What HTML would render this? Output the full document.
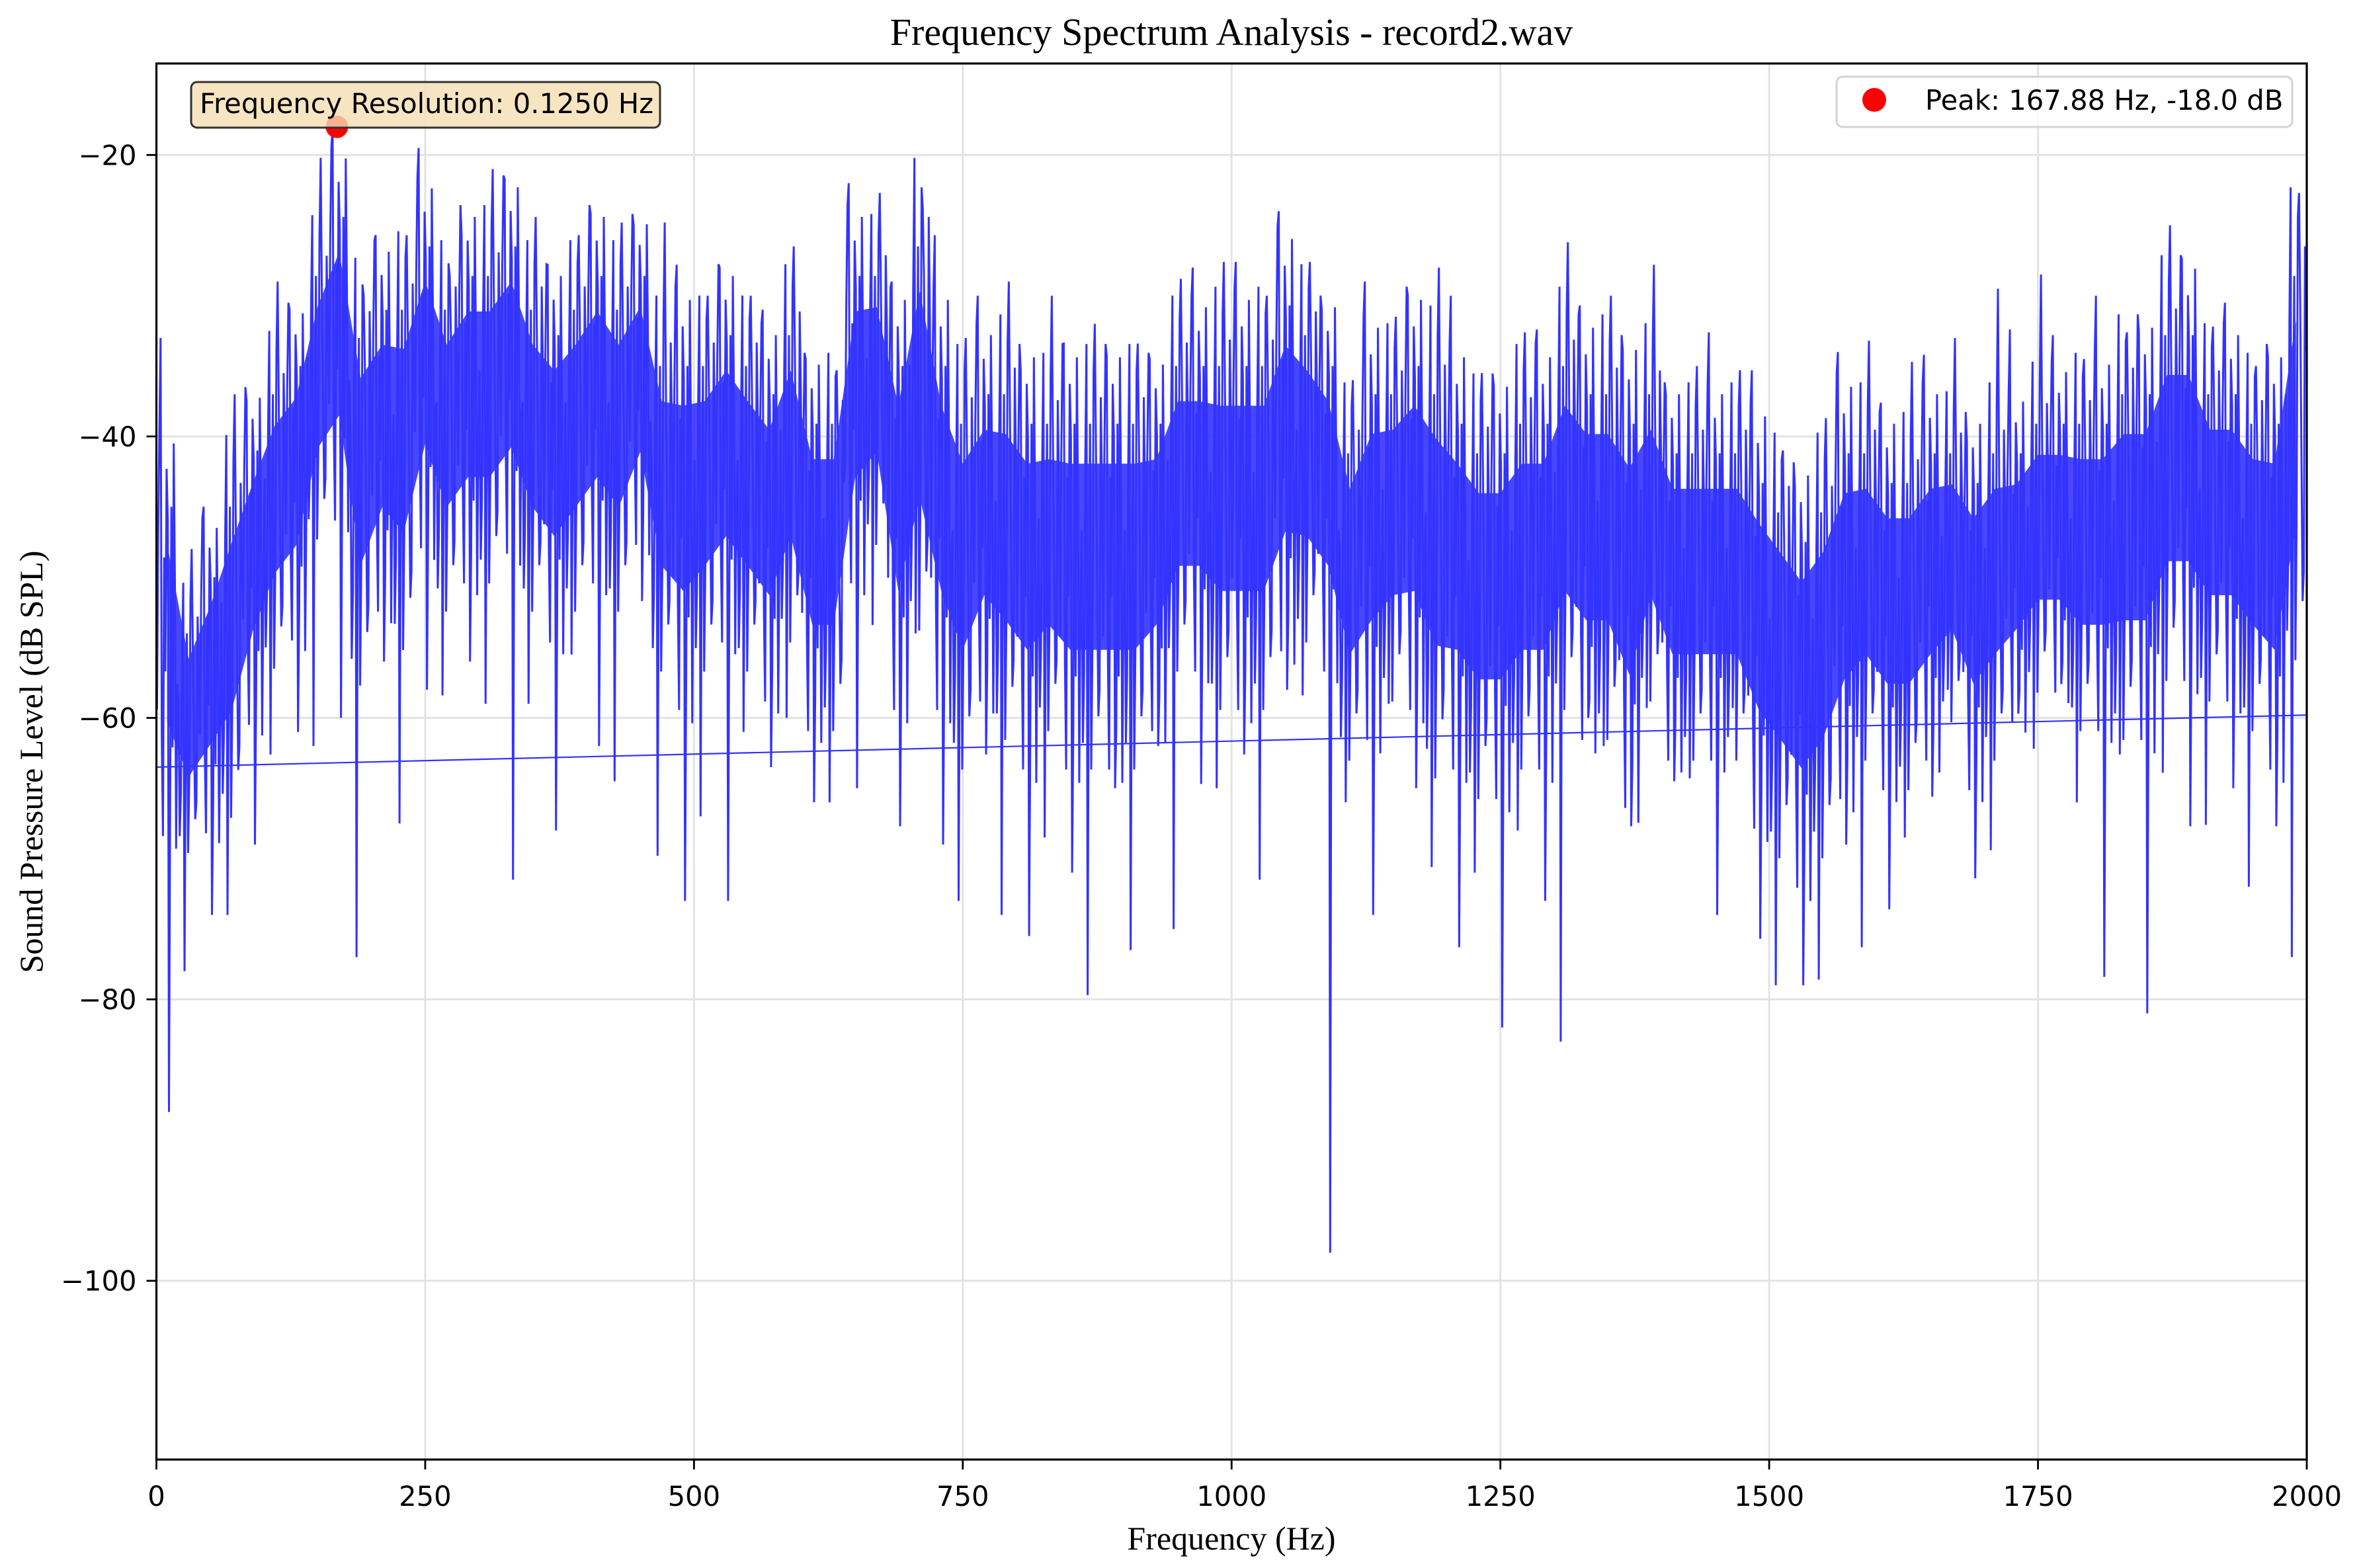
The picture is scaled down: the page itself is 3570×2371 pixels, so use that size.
<!DOCTYPE html>
<html><head><meta charset="utf-8"><style>
html,body{margin:0;padding:0;background:#fff;width:3570px;height:2371px;overflow:hidden}
svg{display:block}
.tk{font-family:"DejaVu Sans","Liberation Sans",sans-serif;font-size:41.7px;fill:#000}
.sf{font-family:"Liberation Serif","DejaVu Serif",serif;fill:#000}
</style></head><body>
<svg id="chart" width="3570" height="2371" viewBox="0 0 3570 2371" xmlns="http://www.w3.org/2000/svg">
<rect width="3570" height="2371" fill="#fff"/>
<g id="grid"></g>
<g id="series"></g>
<g id="axes"></g>
<text class="sf" x="1862" y="68" font-size="58" text-anchor="middle">Frequency Spectrum Analysis - record2.wav</text>
<text class="sf" x="1862" y="2343" font-size="50" text-anchor="middle">Frequency (Hz)</text>
<text class="sf" x="0" y="0" font-size="50" text-anchor="middle" transform="translate(64,1152) rotate(-90)">Sound Pressure Level (dB SPL)</text>
<g>
<rect x="2777" y="116" width="689" height="76" rx="9" fill="#fff" fill-opacity="0.8" stroke="#d3d3d3" stroke-width="3"/>
<circle cx="2834" cy="151" r="18" fill="#ff0000"/>
<text class="tk" x="2911" y="166">Peak: 167.88 Hz, -18.0 dB</text>
</g>
</svg>
<script>
// ---- data (20 Hz bins, dB) ----
const binStartHz = [0,20,40,60,80,100,120,140,160,180,200,220,240,260,280,300,320,340,360,380,400,420,440,460,480,500,520,540,560,580,600,620,640,660,680,700,720,740,760,780,800,820,840,860,880,900,920,940,960,980,1000,1020,1040,1060,1080,1100,1120,1140,1160,1180,1200,1220,1240,1260,1280,1300,1320,1340,1360,1380,1400,1420,1440,1460,1480,1500,1520,1540,1560,1580,1600,1620,1640,1660,1680,1700,1720,1740,1760,1780,1800,1820,1840,1860,1880,1900,1920,1940,1960,1980];
const peakHi = [-33,-48,-45,-37,-37.5,-29,-31,-20.2,-18,-30,-25.7,-25.7,-19.5,-28.6,-25.7,-21,-21.7,-24.4,-27.8,-25.7,-24.2,-24.8,-25,-24.8,-27.8,
 -30,-28,-30,-31,-26.5,-34.5,-35.3,-22,-22.7,-29,-23.8,-25.7,-33,-30,-29,-35.3,-30,-33.4,-32,-34.3,-33.4,-34.5,-28.8,-28,-27.6,
 -27.6,-30,-24,-27.6,-31,-36,-29,-31.5,-30,-28,-30,-35.5,-36.4,-32.6,-32.4,-26.2,-30.7,-30,-33.9,-27.8,-37,-35,-32.6,-35.3,-35.3,
 -41,-43.5,-38.7,-34,-33.2,-37.6,-34.7,-34.2,-33,-40.3,-29.5,-32.4,-28.5,-32.8,-34.5,-30,-32.6,-32.6,-25,-27.4,-32.2,-30.5,-35,-34.3,-22.7];
const peakLo = [-88,-78,-74,-74,-69,-62.6,-61,-62,-60,-77,-56,-67.5,-58,-58.4,-56,-59,-71.5,-59,-68,-55.5,-62,-64.5,-51.7,-69.8,-73,
 -67,-73,-61,-63.5,-60,-66,-66,-65,-53.4,-67.7,-54,-69,-73,-62.6,-74,-75.5,-68.5,-71,-79.7,-65,-76.5,-62,-75,-64.7,-65,
 -62.6,-71.5,-58,-58.4,-98,-66,-74,-59,-65,-70.6,-76.3,-71,-82,-68,-73,-83,-60,-62,-67.7,-59.3,-64.5,-64.3,-74,-59.3,-75.7,
 -79,-79,-78.6,-69,-76.3,-73.6,-68.5,-65.6,-58,-71.4,-69.4,-59.7,-62.2,-57.6,-66,-78.4,-62.6,-81,-63.9,-67.7,-67.6,-65,-72,-67.7,-77];
const coreHi = [-45,-54,-50,-45,-41,-37,-35,-28.6,-24.4,-33,-31,-31,-26.5,-31,-28.6,-28.6,-26.5,-31,-32.8,-31,-28.6,-31,-28.6,-35,-35,
 -35,-32.8,-35,-37,-32.8,-39.1,-39.1,-28.6,-28.6,-35,-26.5,-35,-39.1,-37,-37,-39.1,-39.1,-39.1,-39.1,-39.1,-39.1,-39.1,-35,-35,-35,
 -35,-35,-30.7,-32.8,-35,-41.2,-37,-37,-35,-37,-39.1,-41.2,-41.2,-39.1,-39.1,-35,-37,-37,-39.1,-37,-41.2,-41.2,-41.2,-41.2,-43.3,
 -45.4,-47.5,-45.4,-41.2,-41.2,-43.3,-43.3,-41.2,-41.2,-43.3,-41.2,-41.2,-39.1,-39.1,-39.1,-39.1,-37,-37,-32.8,-32.8,-37,-37,-39.1,-39.1,-28.6];
const coreLo = [-63,-66,-64,-62,-56,-52,-50,-43,-41,-52,-47.5,-49.6,-43,-47.5,-45.4,-45.4,-43.3,-47.5,-49.6,-47.5,-45.4,-47.5,-43.3,-51.7,-53.8,
 -51.7,-49.6,-51.7,-53.8,-49.6,-55.9,-55.9,-45.4,-43.3,-53.8,-47.5,-53.8,-58,-53.8,-55.9,-58,-55.9,-58,-58,-58,-58,-55.9,-51.7,-51.7,-53.8,
 -53.8,-53.8,-49.6,-49.6,-51.7,-58,-55.9,-53.8,-53.8,-58,-58,-60.1,-60.1,-58,-58,-53.8,-55.9,-55.9,-60.1,-53.8,-58,-58,-58,-58,-62.2,
 -64.3,-66.4,-64.3,-60.1,-58,-60.1,-60.1,-58,-55.9,-60.1,-58,-55.9,-53.8,-53.8,-55.9,-55.9,-55.9,-55.9,-51.7,-51.7,-53.8,-53.8,-55.9,-58,-49.6];
const wrapLine = [[0,-63.5],[2000,-59.8]];
const peakPoint = [167.88,-18.0];
const xTicks = [0,250,500,750,1000,1250,1500,1750,2000];
const yTicks = [-100,-80,-60,-40,-20];
const binWidthHz = 20;

// ---- axes ----
const X0=236.5,X1=3488,Y0=96,Y1=2207;
const xMin=0,xMax=2000,yMin=-112.7,yMax=-13.5;
const sx=v=>X0+(v-xMin)/(xMax-xMin)*(X1-X0);
const sy=v=>Y0+(yMax-v)/(yMax-yMin)*(Y1-Y0);
const NS='http://www.w3.org/2000/svg';
function mk(tag,attrs,parent){const e=document.createElementNS(NS,tag);for(const k in attrs)e.setAttribute(k,attrs[k]);parent.appendChild(e);return e;}
const grid=document.getElementById('grid'),axes=document.getElementById('axes'),series=document.getElementById('series');

xTicks.forEach(t=>{
  const g=mk('line',{x1:sx(t),x2:sx(t),y1:Y0,y2:Y1,stroke:'#e3e3e3','stroke-width':3},grid);
  
  
  const tk=mk('line',{x1:sx(t),x2:sx(t),y1:Y1,y2:Y1+15,stroke:'#000','stroke-width':2.8},axes);
  
  
  const lb=mk('text',{x:sx(t),y:Y1+70,'text-anchor':'middle',class:'tk'},axes);
  lb.textContent=String(t);
  
  
});
yTicks.forEach(t=>{
  const g=mk('line',{x1:X0,x2:X1,y1:sy(t),y2:sy(t),stroke:'#e3e3e3','stroke-width':3},grid);
  
  
  const tk=mk('line',{x1:X0-15,x2:X0,y1:sy(t),y2:sy(t),stroke:'#000','stroke-width':2.8},axes);
  
  
  const lb=mk('text',{x:X0-30,y:sy(t)+15,'text-anchor':'end',class:'tk'},axes);
  lb.textContent='\u2212'+String(Math.abs(t));
  
  
});
const frame=mk('rect',{x:X0,y:Y0,width:X1-X0,height:Y1-Y0,fill:'none',stroke:'#000','stroke-width':3.2},axes);



// ---- series ----
const patA=[0.2,0.9,1.3,'H',0.1,-0.3,0.8,0.35,1.15,0.95,'L',-0.15,1.0,0.05,1.25,0.7,-0.35,0.3];
const patB=[0.6,-0.2,0.05,0.85,1.3,'L',0.25,1.0,-0.3,0.15,1.2,'H',0.9,0.4,-0.1,0.0,1.1,0.75];
let pts=[];
binStartHz.forEach((f,i)=>{
  const pat=i%2?patB:patA;
  pat.forEach((p,j)=>{
    const hz=f+binWidthHz*(j+0.5)/pat.length;
    let v;
    if(p==='H')v=peakHi[i];else if(p==='L')v=peakLo[i];else v=coreLo[i]+p*(coreHi[i]-coreLo[i]);
    pts.push(sx(hz).toFixed(1)+','+sy(v).toFixed(1));
  });
});
let up=[],dn=[];
binStartHz.forEach((f,i)=>{const c=f+binWidthHz/2;up.push(sx(c).toFixed(1)+','+sy(coreHi[i]*0.85+coreLo[i]*0.15).toFixed(1));dn.unshift(sx(c).toFixed(1)+','+sy(coreLo[i]*0.85+coreHi[i]*0.15).toFixed(1));});
const bandEl=mk('polygon',{points:up.concat(dn).join(' '),fill:'#3333ff','fill-opacity':0.9},series);


const wl=mk('line',{x1:sx(wrapLine[0][0]),y1:sy(wrapLine[0][1]),x2:sx(wrapLine[1][0]),y2:sy(wrapLine[1][1]),stroke:'#3333ff','stroke-width':2.2},series);


const line=mk('polyline',{points:pts.join(' '),fill:'none',stroke:'#3333ff','stroke-width':3,'stroke-linejoin':'miter'},series);


const pk=mk('circle',{cx:sx(peakPoint[0]),cy:sy(peakPoint[1]),r:17,fill:'#ff0000'},series);



// annotation box (drawn over the marker)
const ann=mk('g',{},document.getElementById('chart'));


mk('rect',{x:289,y:124,width:709,height:69,rx:9,fill:'rgb(245,222,179)','fill-opacity':0.8,stroke:'#333','stroke-width':3},ann);
const at=mk('text',{x:302,y:171,class:'tk'},ann);
at.textContent='Frequency Resolution: 0.1250 Hz';
</script>
</body></html>
